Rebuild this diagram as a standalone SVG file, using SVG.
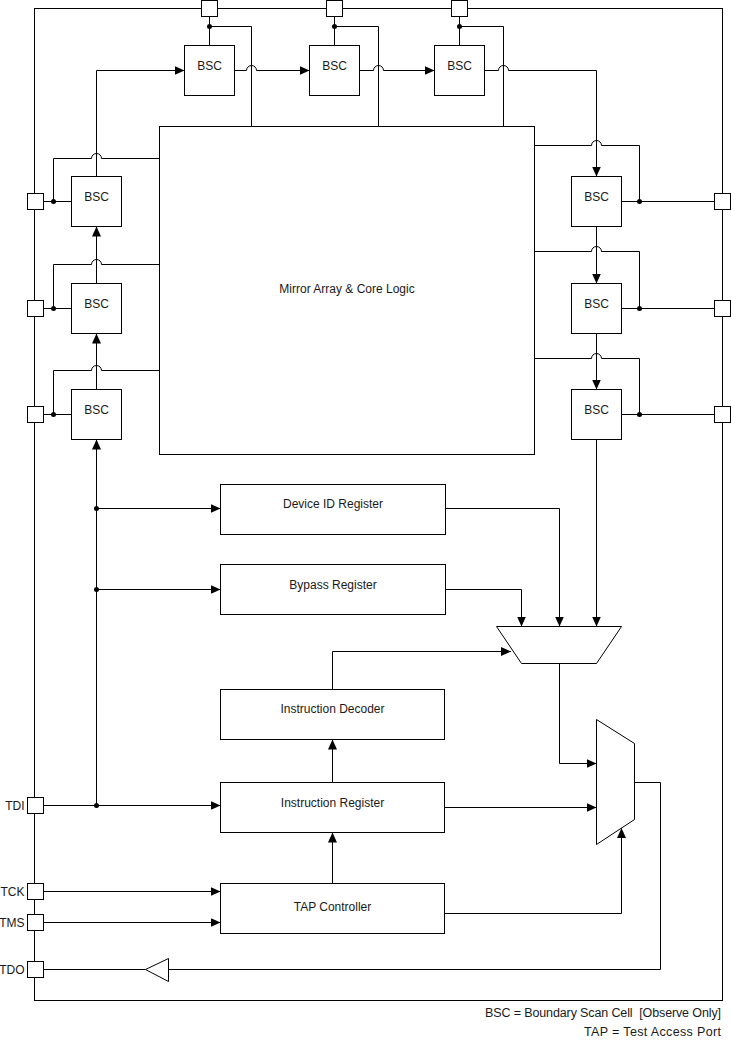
<svg xmlns="http://www.w3.org/2000/svg" width="731" height="1044" viewBox="0 0 731 1044">
<style>
.ln{fill:none;stroke:#000;stroke-width:1}
.box{fill:#fff;stroke:#000;stroke-width:1}
.ar{fill:none;stroke:#000;stroke-width:1;marker-end:url(#arr)}
.t{font-family:"Liberation Sans",Arial,sans-serif;font-size:12px;fill:#1a1a1a;text-anchor:middle}
.pl{font-family:"Liberation Sans",Arial,sans-serif;font-size:12px;fill:#1a1a1a;text-anchor:end}
.lg{font-family:"Liberation Sans",Arial,sans-serif;font-size:12.5px;fill:#1a1a1a;text-anchor:end}
.dot{fill:#000}
</style>
<defs>
<marker id="arr" markerUnits="userSpaceOnUse" markerWidth="10" markerHeight="9" refX="10" refY="4.5" orient="auto">
<path d="M0,0 L10,4.5 L0,9 Z" fill="#000"/>
</marker>
</defs>
<rect id="border" class="ln" x="34.5" y="8.5" width="688" height="992"/>
<g id="connectors">
<path class="ln" d="M209.5,16.5 V45.5 M334.5,16.5 V45.5 M459.5,16.5 V45.5"/>
<path class="ln" d="M209.5,26.5 H251.5 V126.5 M334.5,26.5 H378.5 V126.5 M459.5,26.5 H503.5 V126.5"/>
<path class="ar" d="M96.5,176.5 V70.5 H184.5"/>
<path class="ar" d="M234.5,70.5 H246.5 A5,5 0 0 1 256.5,70.5 H309.5"/>
<path class="ar" d="M359.5,70.5 H373.5 A5,5 0 0 1 383.5,70.5 H434.5"/>
<path class="ar" d="M484.5,70.5 H498.5 A5,5 0 0 1 508.5,70.5 H596.5 V176.5"/>
<path class="ln" d="M43.5,201.5 H71.5 M43.5,308.5 H71.5 M43.5,414.5 H71.5"/>
<path class="ln" d="M53.5,201.5 V158.5 H91.5 A5,5 0 0 1 101.5,158.5 H159.5"/>
<path class="ln" d="M53.5,308.5 V264.5 H91.5 A5,5 0 0 1 101.5,264.5 H159.5"/>
<path class="ln" d="M53.5,414.5 V370.5 H91.5 A5,5 0 0 1 101.5,370.5 H159.5"/>
<path class="ar" d="M96.5,283.5 V226.5"/>
<path class="ar" d="M96.5,389.5 V333.5"/>
<path class="ln" d="M621.5,201.5 H714.5 M621.5,308.5 H714.5 M621.5,414.5 H714.5"/>
<path class="ln" d="M639.5,201.5 V145.5 H601.5 A5,5 0 0 0 591.5,145.5 H534.5"/>
<path class="ln" d="M639.5,308.5 V251.5 H601.5 A5,5 0 0 0 591.5,251.5 H534.5"/>
<path class="ln" d="M639.5,414.5 V358.5 H601.5 A5,5 0 0 0 591.5,358.5 H534.5"/>
<path class="ar" d="M596.5,226.5 V283.5"/>
<path class="ar" d="M596.5,333.5 V389.5"/>
<path class="ar" d="M596.5,439.5 V626.5"/>
<path class="ar" d="M43.5,805.5 H220.5"/>
<path class="ar" d="M96.5,805.5 V439.5"/>
<path class="ar" d="M96.5,508.5 H220.5"/>
<path class="ar" d="M96.5,589.5 H220.5"/>
<path class="ar" d="M445.5,508.5 H559.5 V626.5"/>
<path class="ar" d="M445.5,589.5 H521.5 V626.5"/>
<path class="ar" d="M332.5,689.5 V651.5 H511"/>
<path class="ar" d="M332.5,782.5 V739.5"/>
<path class="ar" d="M332.5,883.5 V832.5"/>
<path class="ar" d="M559.5,663.5 V763.5 H596.5"/>
<path class="ar" d="M444.5,807.5 H596.5"/>
<path class="ar" d="M444.5,913.5 H621.5 V828"/>
<path class="ar" d="M43.5,891.5 H220.5"/>
<path class="ar" d="M43.5,922.5 H220.5"/>
<path class="ln" d="M634.5,782.5 H660.5 V969.5 H168.5 M145.5,969.5 H43.5"/>
</g>
<g id="dots">
<circle class="dot" cx="209.5" cy="26.5" r="2.5"/>
<circle class="dot" cx="334.5" cy="26.5" r="2.5"/>
<circle class="dot" cx="459.5" cy="26.5" r="2.5"/>
<circle class="dot" cx="53.5" cy="201.5" r="2.5"/>
<circle class="dot" cx="53.5" cy="308.5" r="2.5"/>
<circle class="dot" cx="53.5" cy="414.5" r="2.5"/>
<circle class="dot" cx="639.5" cy="201.5" r="2.5"/>
<circle class="dot" cx="639.5" cy="308.5" r="2.5"/>
<circle class="dot" cx="639.5" cy="414.5" r="2.5"/>
<circle class="dot" cx="96.5" cy="805.5" r="2.5"/>
<circle class="dot" cx="96.5" cy="508.5" r="2.5"/>
<circle class="dot" cx="96.5" cy="589.5" r="2.5"/>
</g>
<g id="core"><rect class="box" x="159.5" y="126.5" width="375" height="328"/><text class="t" x="347" y="293">Mirror Array &amp; Core Logic</text></g>
<g id="bsc-top1"><rect class="box" x="184.5" y="45.5" width="50" height="50"/><text class="t" x="209.5" y="70">BSC</text></g>
<g id="bsc-top2"><rect class="box" x="309.5" y="45.5" width="50" height="50"/><text class="t" x="334.5" y="70">BSC</text></g>
<g id="bsc-top3"><rect class="box" x="434.5" y="45.5" width="50" height="50"/><text class="t" x="459.5" y="70">BSC</text></g>
<g id="bsc-left1"><rect class="box" x="71.5" y="176.5" width="50" height="50"/><text class="t" x="96.5" y="201">BSC</text></g>
<g id="bsc-left2"><rect class="box" x="71.5" y="283.5" width="50" height="50"/><text class="t" x="96.5" y="308">BSC</text></g>
<g id="bsc-left3"><rect class="box" x="71.5" y="389.5" width="50" height="50"/><text class="t" x="96.5" y="414">BSC</text></g>
<g id="bsc-right1"><rect class="box" x="571.5" y="176.5" width="50" height="50"/><text class="t" x="596.5" y="201">BSC</text></g>
<g id="bsc-right2"><rect class="box" x="571.5" y="283.5" width="50" height="50"/><text class="t" x="596.5" y="308">BSC</text></g>
<g id="bsc-right3"><rect class="box" x="571.5" y="389.5" width="50" height="50"/><text class="t" x="596.5" y="414">BSC</text></g>
<g id="pins-top">
<rect class="box" x="201.5" y="0.5" width="16" height="16"/>
<rect class="box" x="326.5" y="0.5" width="16" height="16"/>
<rect class="box" x="451.5" y="0.5" width="16" height="16"/>
</g>
<g id="pins-left">
<rect class="box" x="27.5" y="193.5" width="16" height="16"/>
<rect class="box" x="27.5" y="300.5" width="16" height="16"/>
<rect class="box" x="27.5" y="406.5" width="16" height="16"/>
</g>
<g id="pins-right">
<rect class="box" x="714.5" y="193.5" width="16" height="16"/>
<rect class="box" x="714.5" y="300.5" width="16" height="16"/>
<rect class="box" x="714.5" y="406.5" width="16" height="16"/>
</g>
<g id="pin-tdi"><rect class="box" x="27.5" y="797.5" width="16" height="16"/><text class="pl" x="24.5" y="809.5">TDI</text></g>
<g id="pin-tck"><rect class="box" x="27.5" y="883.5" width="16" height="16"/><text class="pl" x="24.5" y="895.5">TCK</text></g>
<g id="pin-tms"><rect class="box" x="27.5" y="914.5" width="16" height="16"/><text class="pl" x="24.5" y="926.5">TMS</text></g>
<g id="pin-tdo"><rect class="box" x="27.5" y="961.5" width="16" height="16"/><text class="pl" x="24.5" y="974">TDO</text></g>
<g id="device-id"><rect class="box" x="220.5" y="484.5" width="225" height="50"/><text class="t" x="333" y="508">Device ID Register</text></g>
<g id="bypass"><rect class="box" x="220.5" y="564.5" width="225" height="50"/><text class="t" x="333" y="589">Bypass Register</text></g>
<g id="decoder"><rect class="box" x="220.5" y="689.5" width="224" height="50"/><text class="t" x="332.5" y="712.5">Instruction Decoder</text></g>
<g id="ir"><rect class="box" x="220.5" y="782.5" width="224" height="50"/><text class="t" x="332.5" y="807">Instruction Register</text></g>
<g id="tap"><rect class="box" x="220.5" y="883.5" width="224" height="50"/><text class="t" x="332.5" y="910.5">TAP Controller</text></g>
<g id="mux1"><polygon class="box" points="496.5,626.5 621.5,626.5 596.5,663.5 521.5,663.5"/></g>
<g id="mux2"><polygon class="box" points="596.5,719.5 634.5,743.5 634.5,819.5 596.5,844.5"/></g>
<g id="buffer"><polygon class="box" points="168.5,958.5 168.5,981.5 145.5,969.5"/></g>
<g id="legend">
<text class="lg" x="721" y="1017" xml:space="preserve" textLength="236" lengthAdjust="spacing">BSC = Boundary Scan Cell  [Observe Only]</text>
<text class="lg" x="721" y="1035.5" textLength="137" lengthAdjust="spacing">TAP = Test Access Port</text>
</g>
</svg>
